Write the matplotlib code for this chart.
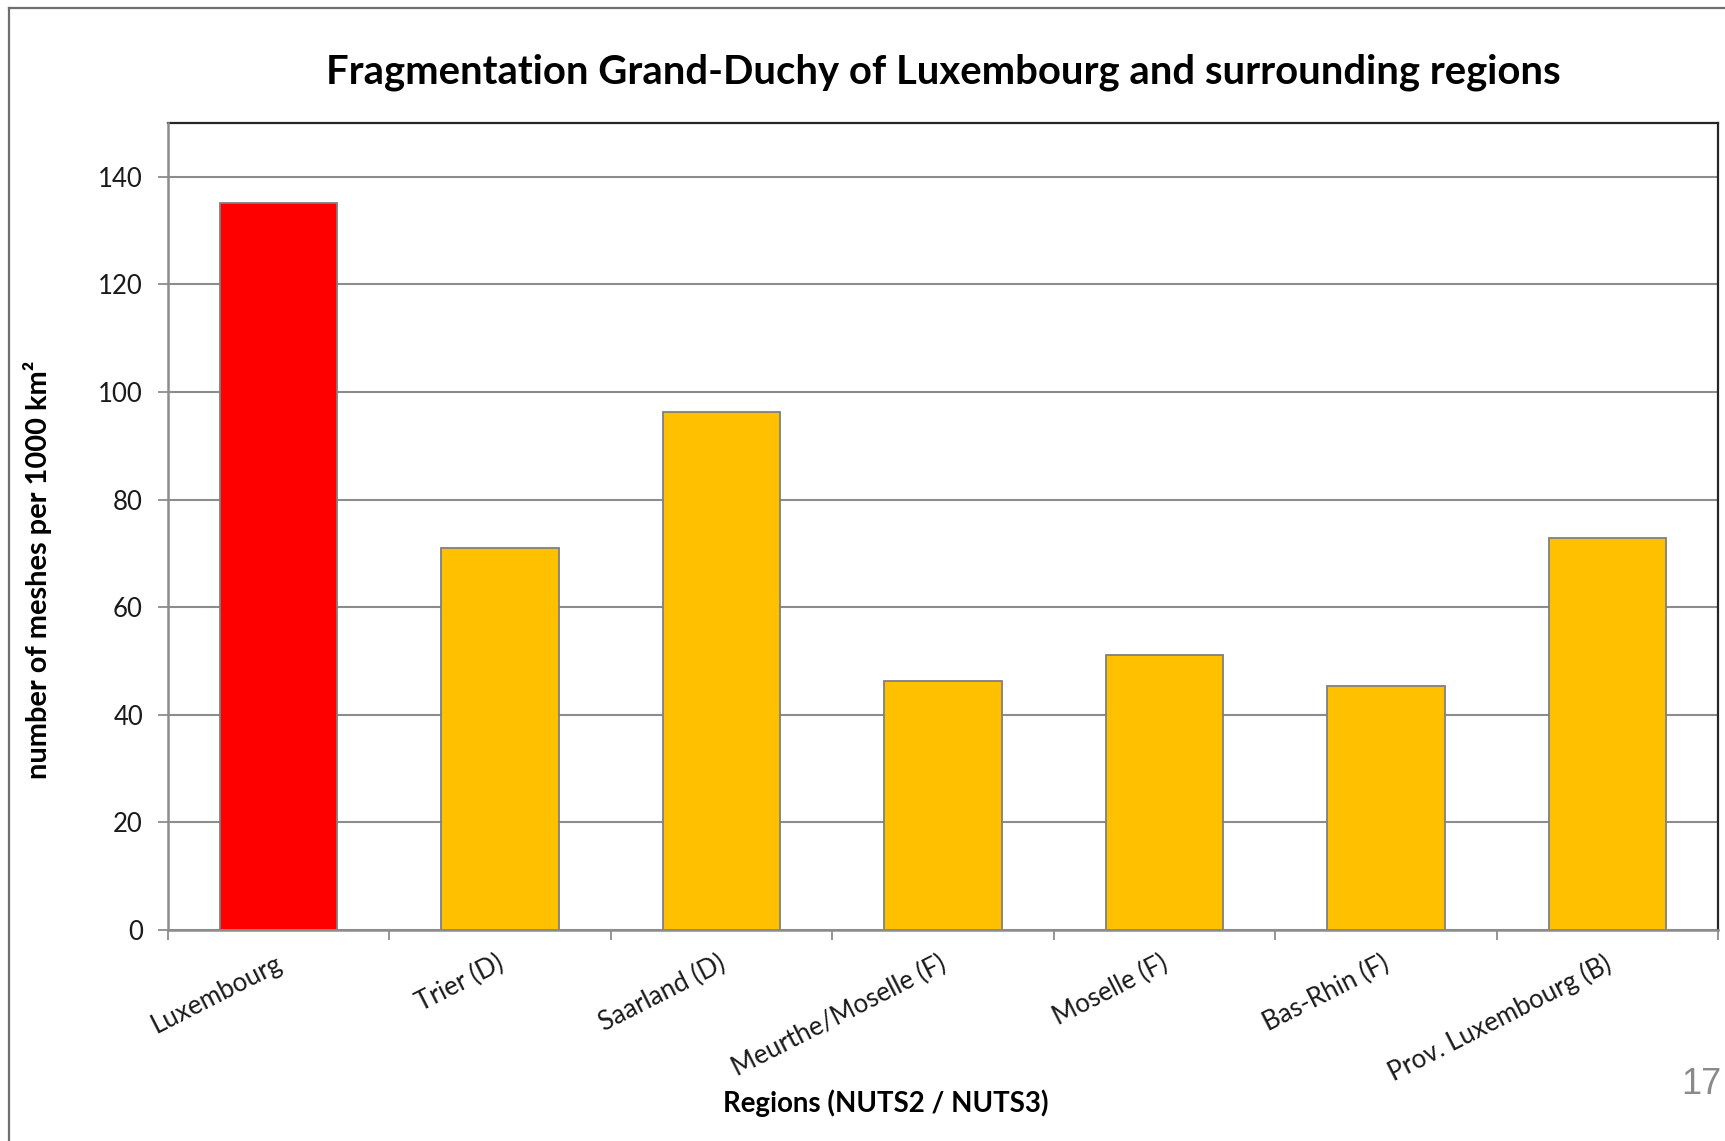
import numpy as np
import matplotlib
matplotlib.use("Agg")
import matplotlib.pyplot as plt
from matplotlib.lines import Line2D
from matplotlib.transforms import ScaledTranslation

# data
regions = ["Luxembourg", "Trier (D)", "Saarland (D)", "Meurthe/Moselle (F)",
           "Moselle (F)", "Bas-Rhin (F)", "Prov. Luxembourg (B)"]
meshes = [135.2, 71.0, 96.3, 46.2, 51.1, 45.3, 72.8]
bar_colors = ["#FF0000"] + ["#FFC000"] * 6
y_ticks = [0, 20, 40, 60, 80, 100, 120, 140]

plt.rcParams['font.family'] = ['Lato', 'DejaVu Sans']
W, H = 1725, 1141

fig = plt.figure(figsize=(W / 100, H / 100), dpi=100)
ax = fig.add_axes([168 / W, 1 - 930 / H, (1718 - 168) / W, (930 - 123) / H])

x = np.arange(len(regions))
ax.bar(x, meshes, width=0.53, color=bar_colors, edgecolor="#7f7f7f",
       linewidth=1.3, zorder=3)

ax.set_xlim(-0.5, len(regions) - 0.5)
ax.set_ylim(0, 150)
ax.set_yticks(y_ticks)
ax.set_yticklabels([str(v) for v in y_ticks], fontsize=18.5, color="#1a1a1a")
ax.grid(True, axis='y', color="#8c8c8c", linewidth=1.5, zorder=0)
ax.tick_params(axis='y', length=7, width=1.3, color="#8c8c8c", pad=11)

# category ticks sit between the bars, labels sit under the bars
ax.set_xticks(np.arange(-0.5, len(regions), 1.0))
ax.set_xticklabels([])
ax.set_xticks(x, minor=True)
ax.set_xticklabels(regions, minor=True, rotation=27, ha='right', va='top',
                   rotation_mode='anchor', fontsize=18.7, color="#1a1a1a")
ax.tick_params(axis='x', which='major', length=7, width=1.3, color="#8c8c8c")
ax.tick_params(axis='x', which='minor', length=0, pad=15)

# nudge labels a little left so their ends meet the bar centres as in the original
shift = ScaledTranslation(-4 / 100, 0, fig.dpi_scale_trans)
for lbl in ax.get_xticklabels(minor=True):
    lbl.set_transform(lbl.get_transform() + shift)

for s in ['left', 'bottom']:
    ax.spines[s].set_color("#8c8c8c")
    ax.spines[s].set_linewidth(1.8)
    ax.spines[s].set_zorder(4)
for s in ['top', 'right']:
    ax.spines[s].set_color("#262626")
    ax.spines[s].set_linewidth(1.6)

fig.text(943 / W, 1 - 72 / H, "Fragmentation Grand-Duchy of Luxembourg and surrounding regions",
         ha='center', va='center', fontsize=28.8, fontweight='bold')
fig.text(38 / W, 1 - 570 / H, "number of meshes per 1000 km²", rotation=90,
         ha='center', va='center', fontsize=20.9, fontweight='bold')
fig.text(886 / W, 1 - 1103 / H, "Regions (NUTS2 / NUTS3)",
         ha='center', va='center', fontsize=19.9, fontweight='bold')

# slide frame and page number
fig.add_artist(Line2D([9 / W, 1.0], [1 - 8 / H, 1 - 8 / H], color="#6e6e6e", linewidth=1.6))
fig.add_artist(Line2D([9 / W, 9 / W], [1 - 8 / H, 0.0], color="#6e6e6e", linewidth=1.6))
fig.text(1722 / W, 1 - 1084 / H, "17", ha='right', va='center', fontsize=26,
         color="#8a8a8a", family='Liberation Sans')

fig.savefig("out.png", dpi=100)
